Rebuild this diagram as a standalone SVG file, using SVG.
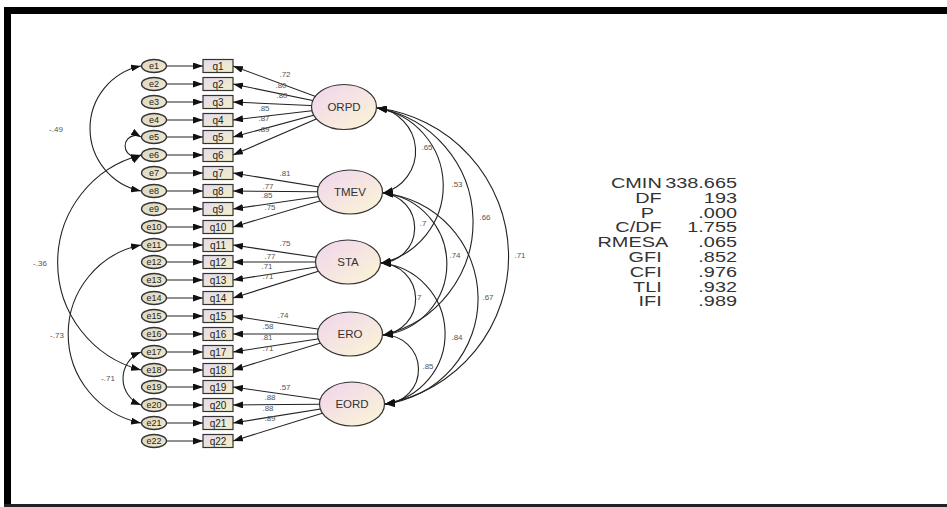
<svg xmlns="http://www.w3.org/2000/svg" width="947" height="507" viewBox="0 0 947 507">
<style>
.ln{fill:none;stroke:#222;stroke-width:1.1}
.e{fill:url(#eg);stroke:#333;stroke-width:1.3}
.q{fill:url(#qg);stroke:#333;stroke-width:1.2}
.lat{fill:url(#lg);stroke:#333;stroke-width:1.2}
.et{font-family:"Liberation Sans",Arial,sans-serif;font-size:9px;fill:#222;text-anchor:middle}
.qt{font-family:"Liberation Sans",Arial,sans-serif;font-size:10px;fill:#222;text-anchor:middle}
.lt{font-family:"Liberation Sans",Arial,sans-serif;font-size:11.5px;fill:#333;text-anchor:middle}
.sm{font-family:"Liberation Sans",Arial,sans-serif;font-size:8px;fill:#555;text-anchor:middle}
.fit{font-family:"Liberation Sans",Arial,sans-serif;font-size:14px;fill:#333;text-anchor:end}
</style>
<defs>
<linearGradient id="lg" x1="0" y1="0" x2="1" y2="1"><stop offset="0" stop-color="#f0d4ee"/><stop offset="1" stop-color="#fbf6d4"/></linearGradient>
<linearGradient id="eg" x1="0" y1="0" x2="1" y2="1"><stop offset="0" stop-color="#ddd4bc"/><stop offset="1" stop-color="#f1ecd4"/></linearGradient>
<linearGradient id="qg" x1="0" y1="0" x2="1" y2="1"><stop offset="0" stop-color="#e4daee"/><stop offset="1" stop-color="#f4f0c6"/></linearGradient>
<marker id="ah" viewBox="0 0 10 7" refX="10" refY="3.5" markerWidth="10" markerHeight="7" markerUnits="userSpaceOnUse" orient="auto-start-reverse"><path d="M0,0 L10,3.5 L0,7 z" fill="#111"/></marker>
</defs>
<rect x="0" y="0" width="947" height="507" fill="#fff"/>
<g id="frame">
<rect x="4" y="7" width="943" height="7" fill="#000"/>
<rect x="4" y="7" width="7" height="500" fill="#000"/>
<rect x="4" y="504" width="943" height="3" fill="#222"/>
</g>
<g id="connectors">
<g id="err-paths" class="ln" marker-end="url(#ah)">
<path d="M166,66H203"/><path d="M166,84H203"/><path d="M166,102H203"/><path d="M166,120H203"/><path d="M166,137H203"/><path d="M166,155H203"/><path d="M166,173H203"/><path d="M166,191H203"/><path d="M166,209H203"/><path d="M166,227H203"/><path d="M166,245H203"/><path d="M166,262H203"/><path d="M166,280H203"/><path d="M166,298H203"/><path d="M166,316H203"/><path d="M166,334H203"/><path d="M166,352H203"/><path d="M166,370H203"/><path d="M166,387H203"/><path d="M166,405H203"/><path d="M166,423H203"/><path d="M166,441H203"/>
</g>
<g id="loadings" class="ln" marker-end="url(#ah)">
<path d="M344,107L233,66"/><path d="M344,107L233,84"/><path d="M344,107L233,102"/><path d="M344,107L233,120"/><path d="M344,107L233,137"/><path d="M344,107L233,155"/>
<path d="M350,192L233,173"/><path d="M350,192L233,191"/><path d="M350,192L233,209"/><path d="M350,192L233,227"/>
<path d="M348,262L233,245"/><path d="M348,262L233,262"/><path d="M348,262L233,280"/><path d="M348,262L233,298"/>
<path d="M350,334L233,316"/><path d="M350,334L233,334"/><path d="M350,334L233,352"/><path d="M350,334L233,370"/>
<path d="M352,404L233,387"/><path d="M352,404L233,405"/><path d="M352,404L233,423"/><path d="M352,404L233,441"/>
</g>
<g id="latent-cov" class="ln" marker-start="url(#ah)" marker-end="url(#ah)">
<path d="M377,108A43.3,43.3 0 0 1 383,193"/>
<path d="M377,108A78.9,78.9 0 0 1 381,263"/>
<path d="M377,108A115.8,115.8 0 0 1 383,335"/>
<path d="M377,108A149.7,149.7 0 0 1 385,404"/>
<path d="M383,193A35.1,35.1 0 0 1 381,263"/>
<path d="M383,193A71.4,71.4 0 0 1 383,335"/>
<path d="M383,193A106.2,106.2 0 0 1 385,404"/>
<path d="M381,263A36.1,36.1 0 0 1 383,335"/>
<path d="M381,263A71.1,71.1 0 0 1 385,404"/>
<path d="M383,335A34.5,34.5 0 0 1 385,404"/>
</g>
<g id="error-cov" class="ln" marker-start="url(#ah)" marker-end="url(#ah)">
<path d="M141,66A63.8,63.8 0 0 0 141,191"/>
<path d="M141,137A10.5,10.5 0 1 0 141,155"/>
<path d="M141,155A111,111 0 0 0 141,370"/>
<path d="M141,245A90.8,90.8 0 0 0 141,423"/>
<path d="M141,352A28.5,28.5 0 0 0 141,405"/>
</g>
<g id="labels">
<text class="sm" x="285" y="77">.72</text><text class="sm" x="281" y="88">.80</text><text class="sm" x="282" y="98">.80</text><text class="sm" x="264" y="111">.85</text><text class="sm" x="264" y="121">.87</text><text class="sm" x="264" y="132">.89</text>
<text class="sm" x="285" y="176">.81</text><text class="sm" x="268" y="189">.77</text><text class="sm" x="267" y="198">.85</text><text class="sm" x="270" y="210">.75</text>
<text class="sm" x="285" y="246">.75</text><text class="sm" x="270" y="259">.77</text><text class="sm" x="267" y="269">.71</text><text class="sm" x="268" y="279">.71</text>
<text class="sm" x="283" y="318">.74</text><text class="sm" x="268" y="329">.58</text><text class="sm" x="267" y="340">.81</text><text class="sm" x="268" y="351">.71</text>
<text class="sm" x="285" y="390">.57</text><text class="sm" x="270" y="400">.88</text><text class="sm" x="268" y="411">.88</text><text class="sm" x="270" y="421">.89</text>
<text class="sm" x="427" y="150">.65</text><text class="sm" x="457" y="187">.53</text><text class="sm" x="485" y="220">.66</text><text class="sm" x="520" y="258">.71</text>
<text class="sm" x="423" y="226">.7</text><text class="sm" x="455" y="258">.74</text><text class="sm" x="488" y="300">.67</text>
<text class="sm" x="418" y="300">.7</text><text class="sm" x="457" y="340">.84</text><text class="sm" x="428" y="369">.85</text>
<text class="sm" x="56" y="132">-.49</text><text class="sm" x="40" y="266">-.36</text><text class="sm" x="57" y="338">-.73</text><text class="sm" x="108" y="381">-.71</text>
</g>
</g>
<g id="e1"><ellipse class="e" cx="154" cy="66" rx="12.5" ry="6.5"/><text class="et" x="154" y="69">e1</text></g>
<g id="e2"><ellipse class="e" cx="154" cy="84" rx="12.5" ry="6.5"/><text class="et" x="154" y="87">e2</text></g>
<g id="e3"><ellipse class="e" cx="154" cy="102" rx="12.5" ry="6.5"/><text class="et" x="154" y="105">e3</text></g>
<g id="e4"><ellipse class="e" cx="154" cy="120" rx="12.5" ry="6.5"/><text class="et" x="154" y="123">e4</text></g>
<g id="e5"><ellipse class="e" cx="154" cy="137" rx="12.5" ry="6.5"/><text class="et" x="154" y="140">e5</text></g>
<g id="e6"><ellipse class="e" cx="154" cy="155" rx="12.5" ry="6.5"/><text class="et" x="154" y="158">e6</text></g>
<g id="e7"><ellipse class="e" cx="154" cy="173" rx="12.5" ry="6.5"/><text class="et" x="154" y="176">e7</text></g>
<g id="e8"><ellipse class="e" cx="154" cy="191" rx="12.5" ry="6.5"/><text class="et" x="154" y="194">e8</text></g>
<g id="e9"><ellipse class="e" cx="154" cy="209" rx="12.5" ry="6.5"/><text class="et" x="154" y="212">e9</text></g>
<g id="e10"><ellipse class="e" cx="154" cy="227" rx="12.5" ry="6.5"/><text class="et" x="154" y="230">e10</text></g>
<g id="e11"><ellipse class="e" cx="154" cy="245" rx="12.5" ry="6.5"/><text class="et" x="154" y="248">e11</text></g>
<g id="e12"><ellipse class="e" cx="154" cy="262" rx="12.5" ry="6.5"/><text class="et" x="154" y="265">e12</text></g>
<g id="e13"><ellipse class="e" cx="154" cy="280" rx="12.5" ry="6.5"/><text class="et" x="154" y="283">e13</text></g>
<g id="e14"><ellipse class="e" cx="154" cy="298" rx="12.5" ry="6.5"/><text class="et" x="154" y="301">e14</text></g>
<g id="e15"><ellipse class="e" cx="154" cy="316" rx="12.5" ry="6.5"/><text class="et" x="154" y="319">e15</text></g>
<g id="e16"><ellipse class="e" cx="154" cy="334" rx="12.5" ry="6.5"/><text class="et" x="154" y="337">e16</text></g>
<g id="e17"><ellipse class="e" cx="154" cy="352" rx="12.5" ry="6.5"/><text class="et" x="154" y="355">e17</text></g>
<g id="e18"><ellipse class="e" cx="154" cy="370" rx="12.5" ry="6.5"/><text class="et" x="154" y="373">e18</text></g>
<g id="e19"><ellipse class="e" cx="154" cy="387" rx="12.5" ry="6.5"/><text class="et" x="154" y="390">e19</text></g>
<g id="e20"><ellipse class="e" cx="154" cy="405" rx="12.5" ry="6.5"/><text class="et" x="154" y="408">e20</text></g>
<g id="e21"><ellipse class="e" cx="154" cy="423" rx="12.5" ry="6.5"/><text class="et" x="154" y="426">e21</text></g>
<g id="e22"><ellipse class="e" cx="154" cy="441" rx="12.5" ry="6.5"/><text class="et" x="154" y="444">e22</text></g>
<g id="q1"><rect class="q" x="203" y="59.5" width="30" height="13"/><text class="qt" x="218" y="69.5">q1</text></g>
<g id="q2"><rect class="q" x="203" y="77.5" width="30" height="13"/><text class="qt" x="218" y="87.5">q2</text></g>
<g id="q3"><rect class="q" x="203" y="95.5" width="30" height="13"/><text class="qt" x="218" y="105.5">q3</text></g>
<g id="q4"><rect class="q" x="203" y="113.5" width="30" height="13"/><text class="qt" x="218" y="123.5">q4</text></g>
<g id="q5"><rect class="q" x="203" y="130.5" width="30" height="13"/><text class="qt" x="218" y="140.5">q5</text></g>
<g id="q6"><rect class="q" x="203" y="148.5" width="30" height="13"/><text class="qt" x="218" y="158.5">q6</text></g>
<g id="q7"><rect class="q" x="203" y="166.5" width="30" height="13"/><text class="qt" x="218" y="176.5">q7</text></g>
<g id="q8"><rect class="q" x="203" y="184.5" width="30" height="13"/><text class="qt" x="218" y="194.5">q8</text></g>
<g id="q9"><rect class="q" x="203" y="202.5" width="30" height="13"/><text class="qt" x="218" y="212.5">q9</text></g>
<g id="q10"><rect class="q" x="203" y="220.5" width="30" height="13"/><text class="qt" x="218" y="230.5">q10</text></g>
<g id="q11"><rect class="q" x="203" y="238.5" width="30" height="13"/><text class="qt" x="218" y="248.5">q11</text></g>
<g id="q12"><rect class="q" x="203" y="255.5" width="30" height="13"/><text class="qt" x="218" y="265.5">q12</text></g>
<g id="q13"><rect class="q" x="203" y="273.5" width="30" height="13"/><text class="qt" x="218" y="283.5">q13</text></g>
<g id="q14"><rect class="q" x="203" y="291.5" width="30" height="13"/><text class="qt" x="218" y="301.5">q14</text></g>
<g id="q15"><rect class="q" x="203" y="309.5" width="30" height="13"/><text class="qt" x="218" y="319.5">q15</text></g>
<g id="q16"><rect class="q" x="203" y="327.5" width="30" height="13"/><text class="qt" x="218" y="337.5">q16</text></g>
<g id="q17"><rect class="q" x="203" y="345.5" width="30" height="13"/><text class="qt" x="218" y="355.5">q17</text></g>
<g id="q18"><rect class="q" x="203" y="363.5" width="30" height="13"/><text class="qt" x="218" y="373.5">q18</text></g>
<g id="q19"><rect class="q" x="203" y="380.5" width="30" height="13"/><text class="qt" x="218" y="390.5">q19</text></g>
<g id="q20"><rect class="q" x="203" y="398.5" width="30" height="13"/><text class="qt" x="218" y="408.5">q20</text></g>
<g id="q21"><rect class="q" x="203" y="416.5" width="30" height="13"/><text class="qt" x="218" y="426.5">q21</text></g>
<g id="q22"><rect class="q" x="203" y="434.5" width="30" height="13"/><text class="qt" x="218" y="444.5">q22</text></g>
<g id="ORPD"><ellipse class="lat" cx="344" cy="107" rx="32.5" ry="22.5"/><text class="lt" x="344" y="111">ORPD</text></g>
<g id="TMEV"><ellipse class="lat" cx="350" cy="192" rx="32.5" ry="22"/><text class="lt" x="350" y="196">TMEV</text></g>
<g id="STA"><ellipse class="lat" cx="348" cy="262" rx="32.5" ry="22"/><text class="lt" x="348" y="266">STA</text></g>
<g id="ERO"><ellipse class="lat" cx="350" cy="334" rx="32.5" ry="22"/><text class="lt" x="350" y="338">ERO</text></g>
<g id="EORD"><ellipse class="lat" cx="352" cy="404" rx="32.5" ry="22"/><text class="lt" x="352" y="408">EORD</text></g>
<g id="fit-table" transform="translate(737,0) scale(1.42,1)">
<text class="fit" x="-53" y="188">CMIN</text><text class="fit" x="0" y="188">338.665</text>
<text class="fit" x="-53" y="202.8">DF</text><text class="fit" x="0" y="202.8">193</text>
<text class="fit" x="-58.5" y="217.6">P</text><text class="fit" x="0" y="217.6">.000</text>
<text class="fit" x="-53" y="232.4">C/DF</text><text class="fit" x="0" y="232.4">1.755</text>
<text class="fit" x="-48.5" y="247.2">RMESA</text><text class="fit" x="0" y="247.2">.065</text>
<text class="fit" x="-53" y="262">GFI</text><text class="fit" x="0" y="262">.852</text>
<text class="fit" x="-53" y="276.8">CFI</text><text class="fit" x="0" y="276.8">.976</text>
<text class="fit" x="-53" y="291.6">TLI</text><text class="fit" x="0" y="291.6">.932</text>
<text class="fit" x="-53" y="306.4">IFI</text><text class="fit" x="0" y="306.4">.989</text>
</g>
</svg>
